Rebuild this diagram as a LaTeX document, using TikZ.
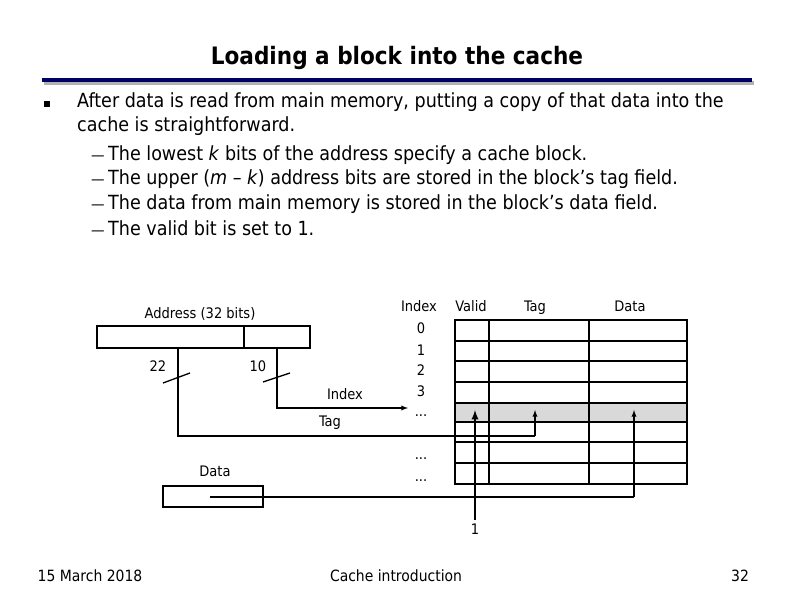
\documentclass[tikz,border=0pt]{standalone}
\usepackage{fontspec}
\setmainfont{DejaVu Sans Condensed}
\begin{document}
\begin{tikzpicture}[x=1pt,y=-1pt,
  lbl/.style={inner sep=0pt,text height=1.5ex,text depth=.3ex,font=\fontsize{14.5}{16}\selectfont},
  body/.style={anchor=west,inner sep=0pt,text height=1.6ex,text depth=.4ex,font=\fontsize{19.5}{22}\selectfont},
  box/.style={draw,line width=1.3pt},
  wire/.style={line width=1.3pt},
  arr/.style={wire,-latex}]
\useasboundingbox (0,0) rectangle (792,612);
\node[inner sep=0pt,font=\bfseries\fontsize{24}{28}\selectfont] (title) at (397,58) {Loading a block into the cache};
\fill[gray!60] (44,81) rectangle (754,85);
\fill[blue!40!black] (42,78) rectangle (752,82);
\fill[black] (44,101) rectangle (50,107);
\node[body] (b1) at (77,104) {After data is read from main memory, putting a copy of that data into the};
\node[body] (b2) at (77,128) {cache is straightforward.};
\foreach \y/\t/\n in {157/{The lowest \textit{k} bits of the address specify a cache block.}/s1,
  181/{The upper (\textit{m} -- \textit{k}) address bits are stored in the block’s tag field.}/s2,
  206/{The data from main memory is stored in the block’s data field.}/s3,
  232/{The valid bit is set to 1.}/s4}{
  \node[body,font=\fontsize{15}{18}\selectfont] (d\n) at (91,\y) {—};
  \node[body] (\n) at (108,\y) {\t};
}
% table
\fill[gray!30] (455,403) rectangle (687,422);
\draw[box] (455,320) rectangle (687,484);
\foreach \y in {341,361,382,403,422,442,463}{\draw[wire] (455,\y) -- (687,\y);}
\draw[wire] (489,320) -- (489,484);
\draw[wire] (589,320) -- (589,484);
\node[lbl] (hi) at (419,308) {Index};
\node[lbl] (hv) at (471,308) {Valid};
\node[lbl] (ht) at (535,308) {Tag};
\node[lbl] (hd) at (630,308) {Data};
\node[lbl] (i0) at (421,330) {0};
\node[lbl] (i1) at (421,352) {1};
\node[lbl] (i2) at (421,372) {2};
\node[lbl] (i3) at (421,393) {3};
\node[lbl] (id) at (421,413) {...};
\node[lbl] (id2) at (421,456) {...};
\node[lbl] (id3) at (421,478) {...};
% address
\node[box,minimum width=213pt,minimum height=22pt,inner sep=0pt] (addr) at (203.5,337) {};
\draw[wire] (244,326) -- (244,348);
\node[lbl] (alab) at (200,315) {Address (32 bits)};
\coordinate (tagtop) at (178,348);
\coordinate (idxtop) at (277,348);
\draw[wire] (tagtop) -- (178,436) -- (535,436);
\draw[arr] (535,436) -- (535,410);
\draw[arr] (idxtop) -- (277,408) -- (408,408);
\draw[wire] (163,383) -- (190,373);
\draw[wire] (263,382) -- (290,373);
\node[lbl] (n22) at (158,368) {22};
\node[lbl] (n10) at (258,368) {10};
\node[lbl] (li) at (345,396) {Index};
\node[lbl] (lt) at (330,423) {Tag};
% data
\node[lbl] (dl) at (215,473) {Data};
\node[box,minimum width=100pt,minimum height=21pt,inner sep=0pt] (dbox) at (213,496.5) {};
\draw[wire] (210,497) -- (634,497);
\draw[arr] (634,497) -- (634,410);
% valid
\draw[arr,line width=2.2pt] (475,520) -- (475,410);
\node[lbl] (v1) at (475,531) {1};
% footer
\node[lbl,font=\fontsize{15.5}{18}\selectfont] (f1) at (90,578) {15 March 2018};
\node[lbl,font=\fontsize{15.5}{18}\selectfont] (f2) at (396,578) {Cache introduction};
\node[lbl,font=\fontsize{15.5}{18}\selectfont] (f3) at (740,578) {32};
\end{tikzpicture}
\end{document}
